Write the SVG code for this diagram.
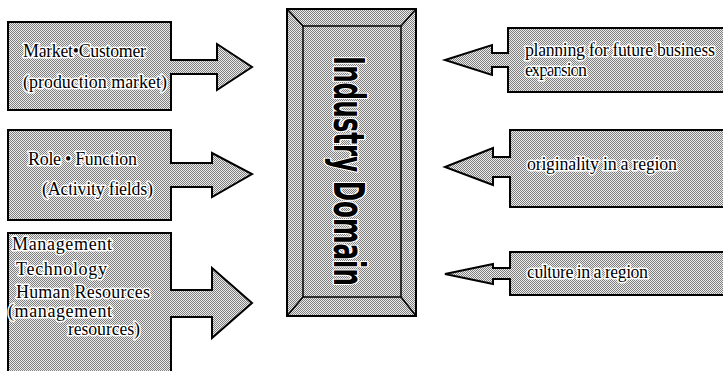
<svg xmlns="http://www.w3.org/2000/svg" width="723" height="371" viewBox="0 0 723 371">
<defs>
<pattern id="dots" patternUnits="userSpaceOnUse" width="2" height="2">
<rect width="2" height="2" fill="#ececec"/>
<rect x="0" y="0" width="1" height="1" fill="#7e7e7e"/>
<rect x="1" y="1" width="1" height="1" fill="#7e7e7e"/>
</pattern>
</defs>
<style>
.shape{fill:url(#dots);stroke:#000;stroke-width:2;stroke-linejoin:miter}
.lbl{font-family:"Liberation Serif","Times New Roman",serif;font-size:18px;fill:#000;stroke:#fff;stroke-width:3;paint-order:stroke;stroke-linejoin:round}
.title{font-family:"Liberation Sans Narrow","DejaVu Sans Condensed","Liberation Sans",sans-serif;font-weight:bold;font-size:43px;fill:#000;stroke:#fff;stroke-width:3;paint-order:stroke;stroke-linejoin:round}
.bevel{fill:none;stroke:#000;stroke-width:1.5}
</style>
<rect width="723" height="371" fill="#fff"/>
<g id="connectors">
</g>
<g id="market">
<path class="shape" d="M8,22 H171 V60 H217 V44 L252,67 L217,90 V74 H171 V110 H8 Z"/>
<text class="lbl" x="23" y="57" textLength="123">Market•Customer</text>
<text class="lbl" x="23" y="88" textLength="144">(production market)</text>
</g>
<g id="role">
<path class="shape" d="M8,130 H171 V163 H212 V153 L252,174 L212,197 V187 H171 V220 H8 Z"/>
<text class="lbl" x="28" y="165" textLength="109">Role • Function</text>
<text class="lbl" x="42" y="195" textLength="111">(Activity fields)</text>
</g>
<g id="management">
<path class="shape" d="M8,233 H171 V290 H212 V268 L252,303 L212,338 V317 H171 V373 H8 Z"/>
<text class="lbl" x="12" y="250" textLength="100">Management</text>
<text class="lbl" x="16" y="275" textLength="91">Technology</text>
<text class="lbl" x="16" y="298" textLength="134">Human Resources</text>
<text class="lbl" x="8" y="317" textLength="104">(management</text>
<text class="lbl" x="68" y="335" textLength="72">resources)</text>
</g>
<g id="industry">
<rect x="287" y="9" width="129" height="307" fill="url(#dots)" stroke="#000" stroke-width="2"/>
<rect x="303" y="26" width="98" height="271" fill="url(#dots)" stroke="#000" stroke-width="1.5"/>
<path class="bevel" d="M287,9 L303,26 M416,9 L401,26 M287,316 L303,297 M416,316 L401,297"/>
<text class="title" transform="translate(334,171) rotate(90)" x="0" y="0" text-anchor="middle" textLength="230" lengthAdjust="spacingAndGlyphs">Industry Domain</text>
</g>
<g id="planning">
<path class="shape" d="M725,28 H508 V53 H492 V45 L445,60 L492,75 V67 H508 V92 H725 Z"/>
<text class="lbl" x="525" y="56" textLength="190">planning for future business</text>
<text class="lbl" x="525" y="76" textLength="62">expansion</text>
</g>
<g id="originality">
<path class="shape" d="M725,130 H510 V157 H493 V148 L445,167 L493,185 V177 H510 V207 H725 Z"/>
<text class="lbl" x="527" y="170" textLength="150">originality in a region</text>
</g>
<g id="culture">
<path class="shape" d="M725,252 H510 V268 H493 V264 L445,274 L493,284 V279 H510 V295 H725 Z"/>
<text class="lbl" x="527" y="278" textLength="121">culture in a region</text>
</g>
</svg>
